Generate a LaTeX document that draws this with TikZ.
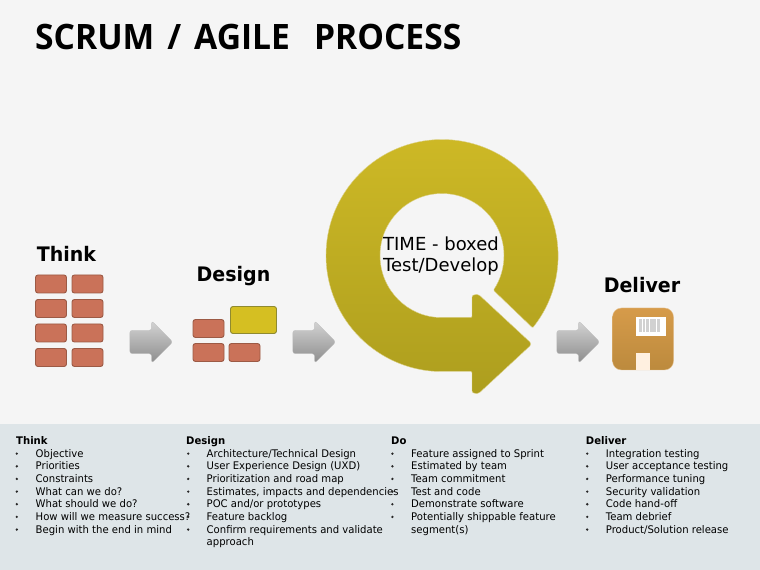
\documentclass[tikz,border=0pt]{standalone}
\usepackage{fontspec}
\setmainfont{DejaVu Sans}
\newfontfamily\listfont[FakeStretch=0.96]{DejaVu Sans}
\newfontfamily\stagefont[FakeStretch=0.95]{DejaVu Sans}
\newfontfamily\titlefont[FakeStretch=0.96]{Open Sans}
\usetikzlibrary{shapes.arrows,calc}

\definecolor{pagegray}{HTML}{F5F5F5}
\definecolor{bandgray}{HTML}{DEE5E8}
\definecolor{brickfill}{HTML}{CA7259}
\definecolor{brickline}{HTML}{9C5A45}
\definecolor{ringtop}{HTML}{CFBA26}
\definecolor{ringbottom}{HTML}{AD9E1E}
\definecolor{ringedge}{HTML}{DDD28A}
\definecolor{markerfill}{HTML}{D5BF22}
\definecolor{markerline}{HTML}{8F8A30}
\definecolor{disktop}{HTML}{D69B4A}
\definecolor{diskbottom}{HTML}{BC8A3D}

\begin{document}
\begin{tikzpicture}[x=1pt,y=1pt,
    brick/.style={draw=brickline, line width=0.9pt, fill=brickfill, rounded corners=2.5pt, minimum width=31pt, minimum height=18pt, inner sep=0pt},
    flow/.style={single arrow, anchor=tip, single arrow head extend=9.5pt, minimum height=43pt, inner xsep=0pt, inner ysep=11.5pt, rounded corners=2.5pt, top color=black!17, bottom color=black!45, draw=black!25, line width=0.3pt},
    stage/.style={font=\stagefont\fontsize{20}{22}\selectfont\bfseries, inner sep=0pt},
    listhead/.style={font=\listfont\fontsize{10.5}{12.6}\selectfont\bfseries, anchor=base west, inner sep=0pt},
    listitem/.style={font=\listfont\fontsize{10.5}{12.6}\selectfont, anchor=base west, inner sep=0pt},
    dot/.style={circle, fill=black!85, minimum size=2.6pt, inner sep=0pt}
]
\useasboundingbox (0,0) rectangle (760,570);
\fill[pagegray] (0,0) rectangle (760,570);
\fill[bandgray] (0,0) rectangle (760,146);

\node[anchor=base west, inner sep=0pt, font=\titlefont\fontsize{35}{38}\selectfont\bfseries] (title) at (35,520) {SCRUM\hspace{13pt}/\hspace{13pt}AGILE\hspace{24pt}PROCESS};

% think column
\node[stage] (think) at (66.5,316) {Think};
\foreach \row/\ypos in {1/286,2/261.5,3/237,4/212.5}{
    \node[brick] (thinkl\row) at (51,\ypos) {};
    \node[brick] (thinkr\row) at (87.5,\ypos) {};
}

% design column
\node[stage] (design) at (233.5,293.5) {Design};
\node[brick] (brickA) at (208.5,241.5) {};
\node[brick] (brickB) at (208.5,217.5) {};
\node[brick] (brickC) at (244.5,217.5) {};
\node[brick, fill=markerfill, draw=markerline, minimum width=46pt, minimum height=27pt] (brickD) at (253.5,250) {};

% time box
\coordinate (cen) at (442,314.5);
\path[top color=ringtop, bottom color=ringbottom, draw=ringedge, line width=0.4pt, rounded corners=1pt]
    ($(cen)+(-38.6:116)$) arc[start angle=-38.6, end angle=270, radius=116]
    -- (472,198.5) -- (472,178) [rounded corners=4pt] -- (477,175) [rounded corners=3pt] -- (532,226) [rounded corners=4pt] -- (477,277) [rounded corners=1pt] -- (472,274) -- (472,252.5) -- (442,252.5)
    arc[start angle=270, end angle=-34, radius=62] -- cycle;
\node[align=center, inner sep=0pt, font=\fontsize{18}{21}\selectfont] (boxed) at (441,314) {TIME - boxed\\Test/Develop};

% deliver
\node[stage] (deliver) at (642,285) {Deliver};
\node[draw=disktop!60!white, line width=0.4pt, top color=disktop, bottom color=diskbottom, rounded corners=9pt, minimum width=61pt, minimum height=62pt, inner sep=0pt] (disk) at (643,231) {};
\node[fill=white, minimum width=30pt, minimum height=19pt, inner sep=0pt] (tag) at (650.5,243.5) {};
\foreach \k in {0,...,5}
    \fill[black!18] (639+3.6*\k,237.5) rectangle ++(2.8,13);
\node[fill=orange!12!white, minimum width=14.5pt, minimum height=17pt, inner sep=0pt] (slot) at (643,208.5) {};

% arrows between stages
\node[flow] (flowA) at (173,228) {};
\node[flow] (flowB) at (336,228) {};
\node[flow] (flowC) at (600,228) {};

% lists
\node[listhead] (thinkhead) at (16,125.5) {Think};
\foreach \txt [count=\i] in {Objective,Priorities,Constraints,What can we do?,What should we do?,How will we measure success?,Begin with the end in mind}{
    \node[listitem] (thinkitem\i) at (35.5,125.5-12.65*\i) {\txt};
    \node[dot] at (16.8,129-12.65*\i) {};
}
\node[listhead] (designhead) at (186,125.5) {Design};
\foreach \txt [count=\i] in {Architecture/Technical Design,User Experience Design (UXD),Prioritization and road map,{Estimates, impacts and dependencies},POC and/or prototypes,Feature backlog,Confirm requirements and validate}{
    \node[listitem] (designitem\i) at (206.5,125.5-12.65*\i) {\txt};
    \node[dot] at (188.2,129-12.65*\i) {};
}
\node[listitem] (designwrap) at (206.5,24.3) {approach};
\node[listhead] (dohead) at (391,125.5) {Do};
\foreach \txt [count=\i] in {Feature assigned to Sprint,Estimated by team,Team commitment,Test and code,Demonstrate software,Potentially shippable feature}{
    \node[listitem] (doitem\i) at (411,125.5-12.65*\i) {\txt};
    \node[dot] at (392.4,129-12.65*\i) {};
}
\node[listitem] (dowrap) at (411,36.95) {segment(s)};
\node[listhead] (deliverhead) at (585.7,125.5) {Deliver};
\foreach \txt [count=\i] in {Integration testing,User acceptance testing,Performance tuning,Security validation,Code hand-off,Team debrief,Product/Solution release}{
    \node[listitem] (deliveritem\i) at (605.7,125.5-12.65*\i) {\txt};
    \node[dot] at (587.2,129-12.65*\i) {};
}
\end{tikzpicture}
\end{document}
